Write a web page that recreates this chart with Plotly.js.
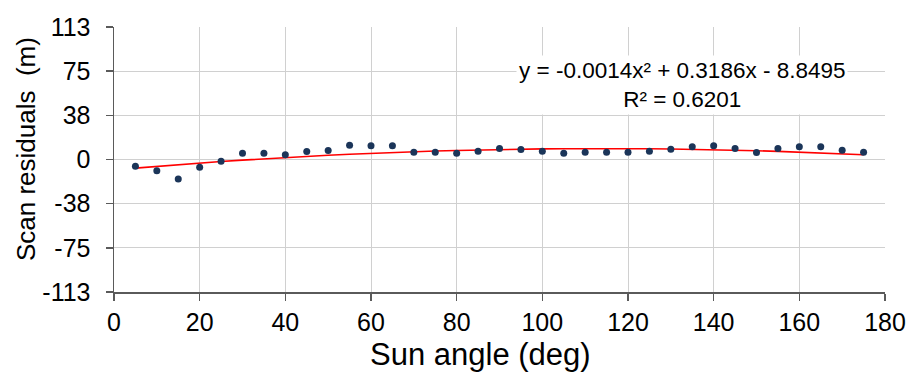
<!DOCTYPE html>
<html>
<head>
<meta charset="utf-8">
<script src="https://cdn.plot.ly/plotly-3.0.1.min.js"></script>
<style>html,body{margin:0;padding:0;background:#fff;}#chart{width:912px;height:374px;}</style>
</head>
<body>
<div id="chart"></div>
<script>
// Sun angle (deg)
const sunAngle = [5,10,15,20,25,30,35,40,45,50,55,60,65,70,75,80,85,90,95,100,105,110,115,120,125,130,135,140,145,150,155,160,165,170,175];
// Scan residuals (m)
const residuals = [-5.7,-9.6,-16.5,-6.5,-1.4,5.4,5.4,4.0,6.8,7.7,12.2,11.6,11.6,6.2,6.2,5.4,7.1,9.4,8.5,7.1,5.4,6.2,6.2,6.2,7.1,8.6,10.8,11.6,9.4,6.0,9.4,10.8,10.8,7.9,6.2];
// Polynomial trendline values
const trendX = [5,10,15,20,25,30,35,40,45,50,55,60,65,70,75,80,85,90,95,100,105,110,115,120,125,130,135,140,145,150,155,160,165,170,175];
const trendY = [-7.29,-5.80,-4.39,-3.04,-1.76,-0.55,0.59,1.65,2.65,3.58,4.44,5.23,5.94,6.59,7.17,7.68,8.12,8.48,8.78,9.01,9.17,9.26,9.27,9.22,9.10,8.91,8.65,8.31,7.91,7.44,6.90,6.29,5.60,4.85,4.03];
// Tick labels
const yTickVals = [-112.5,-75,-37.5,0,37.5,75,112.5];
const yTickText = ['-113','-75','-38','0','38','75','113'];
const xTickVals = [0,20,40,60,80,100,120,140,160,180];
const equationText = 'y = -0.0014x\u00b2 + 0.3186x - 8.8495<br>R\u00b2 = 0.6201';

const FONT = 'Liberation Sans, Arial, sans-serif';

const traces = [
  {
    x: trendX, y: trendY, type: 'scatter', mode: 'lines',
    line: {color: '#ff0000', width: 1.6}, hoverinfo: 'skip', showlegend: false
  },
  {
    x: sunAngle, y: residuals, type: 'scatter', mode: 'markers',
    marker: {color: '#1b3559', size: 7}, showlegend: false
  }
];

const layout = {
  width: 912, height: 374,
  margin: {l: 114, r: 27, t: 27, b: 82},
  paper_bgcolor: '#ffffff', plot_bgcolor: '#ffffff',
  font: {family: FONT, color: '#000000'},
  showlegend: false,
  xaxis: {
    range: [0, 180], tickvals: xTickVals, ticktext: xTickVals.map(String),
    showgrid: true, gridcolor: '#d0d0d0', gridwidth: 1,
    zeroline: false, showline: true, linecolor: '#5a5a5a', linewidth: 1.5,
    ticks: 'outside', ticklen: 7, tickcolor: '#5a5a5a', tickwidth: 1.5,
    tickfont: {family: FONT, size: 25, color: '#000'}
  },
  yaxis: {
    range: [-112.5, 112.5], tickvals: yTickVals, ticktext: yTickText,
    showgrid: true, gridcolor: '#d0d0d0', gridwidth: 1,
    zeroline: false, showline: true, linecolor: '#5a5a5a', linewidth: 1.5,
    ticks: 'outside', ticklen: 7, tickcolor: '#5a5a5a', tickwidth: 1.5,
    tickfont: {family: FONT, size: 25, color: '#000'},
    ticklabelstandoff: 10
  },
  annotations: [
    {
      text: equationText, xref: 'paper', yref: 'paper', x: 0.7367, y: 0.781,
      xanchor: 'center', yanchor: 'middle', showarrow: false, align: 'center',
      bgcolor: '#ffffff', borderpad: 2,
      font: {family: FONT, size: 22.5, color: '#000'}
    },
    {
      text: 'Sun angle (deg)', xref: 'paper', yref: 'paper', x: 0.4754, y: -0.234,
      xanchor: 'center', yanchor: 'middle', showarrow: false,
      font: {family: FONT, size: 31, color: '#000'}
    },
    {
      text: 'Scan residuals  (m)', xref: 'paper', yref: 'paper', x: -0.1141, y: 0.5396,
      xanchor: 'center', yanchor: 'middle', showarrow: false, textangle: -90,
      font: {family: FONT, size: 26, color: '#000'}
    }
  ]
};

Plotly.newPlot('chart', traces, layout, {staticPlot: true, displayModeBar: false});
</script>
</body>
</html>
